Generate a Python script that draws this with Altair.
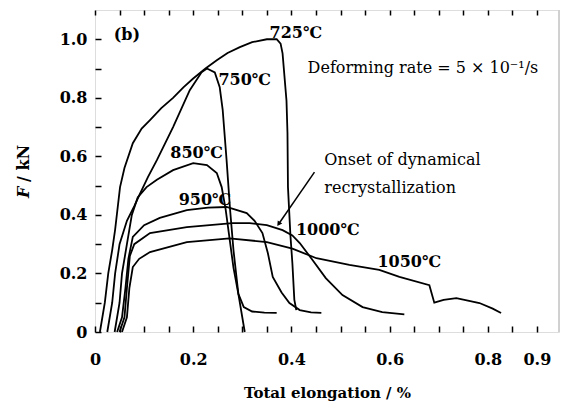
import altair as alt
import pandas as pd

# ---- curve data (Total elongation %, F kN) ----
x725 = [0.010, 0.020, 0.027, 0.035, 0.041, 0.051, 0.060, 0.077, 0.095, 0.112, 0.135, 0.159, 0.180, 0.200, 0.225, 0.248, 0.270, 0.295, 0.320, 0.350, 0.370, 0.378, 0.382, 0.390, 0.392, 0.393, 0.398, 0.402, 0.406, 0.410]
y725 = [0.000, 0.100, 0.200, 0.280, 0.350, 0.495, 0.560, 0.645, 0.695, 0.724, 0.765, 0.800, 0.836, 0.866, 0.900, 0.928, 0.953, 0.973, 0.990, 1.000, 1.000, 0.985, 0.952, 0.790, 0.680, 0.495, 0.330, 0.235, 0.110, 0.075]

x750 = [0.025, 0.035, 0.041, 0.050, 0.065, 0.080, 0.091, 0.108, 0.126, 0.159, 0.193, 0.217, 0.228, 0.244, 0.254, 0.260, 0.268, 0.275, 0.282, 0.292, 0.305]
y750 = [0.000, 0.100, 0.200, 0.300, 0.380, 0.430, 0.470, 0.530, 0.587, 0.700, 0.826, 0.887, 0.900, 0.887, 0.836, 0.760, 0.587, 0.420, 0.280, 0.130, 0.000]

x850 = [0.040, 0.050, 0.055, 0.065, 0.075, 0.087, 0.105, 0.126, 0.159, 0.200, 0.228, 0.248, 0.258, 0.266, 0.274, 0.282, 0.292, 0.303, 0.320, 0.345, 0.370]
y850 = [0.000, 0.100, 0.200, 0.300, 0.400, 0.460, 0.495, 0.520, 0.553, 0.577, 0.570, 0.543, 0.495, 0.420, 0.320, 0.220, 0.130, 0.085, 0.070, 0.066, 0.065]

x950 = [0.045, 0.055, 0.062, 0.068, 0.077, 0.100, 0.132, 0.187, 0.230, 0.268, 0.309, 0.325, 0.341, 0.352, 0.362, 0.380, 0.396, 0.417, 0.440, 0.461]
y950 = [0.000, 0.050, 0.150, 0.250, 0.325, 0.365, 0.390, 0.416, 0.425, 0.427, 0.406, 0.380, 0.338, 0.270, 0.188, 0.135, 0.099, 0.075, 0.067, 0.065]

x1000 = [0.050, 0.060, 0.065, 0.071, 0.080, 0.112, 0.187, 0.280, 0.315, 0.350, 0.382, 0.402, 0.417, 0.443, 0.470, 0.504, 0.545, 0.585, 0.630]
y1000 = [0.000, 0.050, 0.150, 0.260, 0.300, 0.338, 0.358, 0.372, 0.372, 0.365, 0.348, 0.330, 0.304, 0.246, 0.184, 0.126, 0.085, 0.068, 0.060]

x1050 = [0.055, 0.065, 0.070, 0.077, 0.090, 0.112, 0.187, 0.274, 0.350, 0.402, 0.451, 0.518, 0.579, 0.620, 0.681, 0.686, 0.691, 0.710, 0.736, 0.783, 0.810, 0.827]
y1050 = [0.000, 0.050, 0.150, 0.222, 0.250, 0.273, 0.307, 0.320, 0.307, 0.285, 0.252, 0.229, 0.212, 0.188, 0.160, 0.130, 0.100, 0.110, 0.116, 0.099, 0.080, 0.065]

series = [("725", x725, y725), ("750", x750, y750), ("850", x850, y850),
          ("950", x950, y950), ("1000", x1000, y1000), ("1050", x1050, y1050)]

rows = []
for name, xs_, ys_ in series:
    for i, (a, b) in enumerate(zip(xs_, ys_)):
        rows.append({"series": name, "i": i, "x": a, "y": b})
curves = pd.DataFrame(rows)

# ---- annotations ----
temp_labels = ["725℃", "750℃", "850℃", "950℃", "1000℃", "1050℃", "(b)"]
temp_x = [0.409, 0.305, 0.207, 0.224, 0.474, 0.640, 0.065]
temp_y = [1.020, 0.860, 0.611, 0.450, 0.348, 0.239, 1.014]
temps = pd.DataFrame({"t": temp_labels, "x": temp_x, "y": temp_y})

note_labels = ["Deforming rate = 5 × 10⁻¹/s", "Onset of dynamical", "recrystallization"]
note_x = [0.433, 0.467, 0.467]
note_y = [0.901, 0.587, 0.491]
notes = pd.DataFrame({"t": note_labels, "x": note_x, "y": note_y})

arrow_x = [0.447, 0.374]
arrow_y = [0.546, 0.369]
arrow = pd.DataFrame({"x": arrow_x, "y": arrow_y, "i": [0, 1]})

# ---- ticks ----
x_ticks = [0, 0.05, 0.1, 0.15, 0.2, 0.25, 0.3, 0.35, 0.4, 0.45, 0.5, 0.55, 0.6, 0.65, 0.7, 0.75, 0.8, 0.85, 0.9]
x_labels = ["0", "0.2", "0.4", "0.6", "0.8", "0.9"]
y_ticks = [0, 0.1, 0.2, 0.3, 0.4, 0.5, 0.6, 0.7, 0.8, 0.9, 1.0]
y_labels = ["0", "0.2", "0.4", "0.6", "0.8", "1.0"]

W, H = 464, 322
FONT = "DejaVu Serif"
TK = 6

xs = alt.Scale(domain=[0, 0.945], nice=False, zero=False)
ys = alt.Scale(domain=[0, 1.1], nice=False, zero=False)

x_lab_expr = "indexof(" + str(x_labels) + ", format(datum.value, '.2~f')) >= 0 ? format(datum.value, '.2~f') : ''"
y_lab_expr = "datum.value == 0 ? '0' : (indexof(" + str(y_labels) + ", format(datum.value, '.1f')) >= 0 ? format(datum.value, '.1f') : '')"

# inward ticks: axis pulled into the plot by its tick length
x_axis = alt.Axis(
    orient="bottom", offset=-TK, values=x_ticks, labelExpr=x_lab_expr,
    ticks=True, tickSize=TK, tickWidth=1.5, tickColor="black", grid=False, domain=False,
    labelFont=FONT, labelFontWeight="bold", labelFontSize=16, labelColor="black",
    labelPadding=19, labelOverlap=False, labelFlush=False,
    title="Total elongation / %", titleFont=FONT, titleFontWeight="bold",
    titleFontSize=15, titleColor="black", titlePadding=18)
x_axis_top = alt.Axis(
    orient="top", offset=-5, values=x_ticks, labels=False, title=None,
    ticks=True, tickSize=5, tickWidth=1.5, tickColor="black", grid=False, domain=False)
y_axis = alt.Axis(
    orient="left", offset=-TK, values=y_ticks, labelExpr=y_lab_expr,
    ticks=True, tickSize=TK, tickWidth=1.5, tickColor="black", grid=False, domain=False,
    labelFont=FONT, labelFontWeight="bold", labelFontSize=16, labelColor="black",
    labelPadding=8, labelOverlap=False, title=None)

lines = alt.Chart(curves).mark_line(color="black", strokeWidth=1.8).encode(
    x=alt.X("x:Q", scale=xs, axis=x_axis), y=alt.Y("y:Q", scale=ys, axis=y_axis),
    detail="series:N", order="i:Q")

xt = pd.DataFrame({"x": x_ticks})
top_axis_layer = alt.Chart(xt).mark_point(opacity=0).encode(
    x=alt.X("x:Q", scale=xs, axis=x_axis_top), y=alt.value(0))

right_line = alt.Chart(xt).mark_rule(color="white", strokeWidth=3).encode(
    x=alt.value(W), y=alt.value(2), y2=alt.value(H - 2))
right_line2 = alt.Chart(xt).mark_rule(color="#d0d0d0", strokeWidth=1).encode(
    x=alt.value(W), y=alt.value(0), y2=alt.value(H))

# y-axis title: italic F, upright "/ kN"
yt_f = pd.DataFrame({"t": ["F"]})
yt_rest = pd.DataFrame({"t": ["/ kN"]})
ytitle_f = alt.Chart(yt_f).mark_text(font=FONT, fontWeight="bold", fontStyle="italic", fontSize=16,
                                     color="black", angle=270, align="left", baseline="middle").encode(
    x=alt.value(-71), y=alt.value(188), text="t:N")
ytitle_rest = alt.Chart(yt_rest).mark_text(font=FONT, fontWeight="bold", fontSize=16,
                                           color="black", angle=270, align="left", baseline="middle").encode(
    x=alt.value(-71), y=alt.value(172), text="t:N")

temp_text = alt.Chart(temps).mark_text(font=FONT, fontWeight="bold", fontSize=16,
                                       color="black", align="center", baseline="middle").encode(
    x=alt.X("x:Q", scale=xs, axis=None), y=alt.Y("y:Q", scale=ys, axis=None), text="t:N")
note_text = alt.Chart(notes).mark_text(font=FONT, fontSize=16, color="black",
                                       align="left", baseline="middle").encode(
    x=alt.X("x:Q", scale=xs, axis=None), y=alt.Y("y:Q", scale=ys, axis=None), text="t:N")

arrow_line = alt.Chart(arrow).mark_line(color="black", strokeWidth=1.5).encode(
    x=alt.X("x:Q", scale=xs, axis=None), y=alt.Y("y:Q", scale=ys, axis=None), order="i:Q")
arrow_head = alt.Chart(arrow[arrow["i"] == 1]).mark_point(
    shape="triangle-up", angle=215, size=30, filled=True, color="black", opacity=1).encode(
    x=alt.X("x:Q", scale=xs, axis=None), y=alt.Y("y:Q", scale=ys, axis=None))

chart = alt.layer(lines, top_axis_layer, right_line, right_line2,
                  temp_text, note_text, arrow_line, arrow_head, ytitle_f, ytitle_rest).resolve_axis(
    x="independent", y="independent").properties(
    width=W, height=H,
    autosize=alt.AutoSizeParams(type="none"),
    padding={"left": 95, "top": 10, "right": 3, "bottom": 73},
).configure_view(stroke="black", strokeWidth=2).configure(background="white")

chart.save("out.html", embed_options={"renderer": "svg", "actions": False})
